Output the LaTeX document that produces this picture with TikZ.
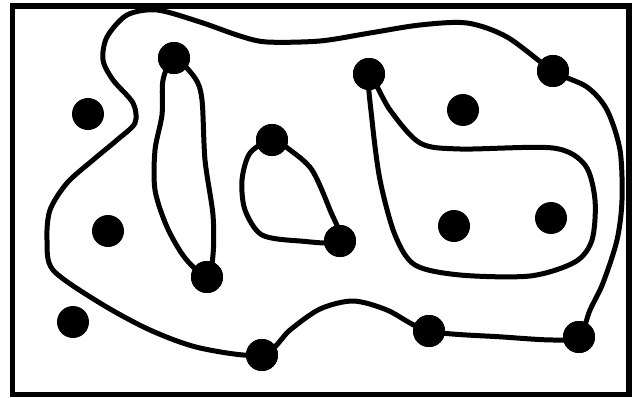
\documentclass[tikz,border=0pt]{standalone}
\begin{document}
\begin{tikzpicture}[x=1pt,y=-1pt,
  dot/.style={circle,fill=black,inner sep=0pt,minimum size=32pt},
  curve/.style={line width=5pt,line join=round}]
\useasboundingbox (0,0) rectangle (639,398);
\draw[line width=5.5pt] (12.5,6) rectangle (629,394.5);
% dots
\node[dot] (d1) at (174,58) {};
\node[dot] (d2) at (88,114) {};
\node[dot] (d3) at (108,231) {};
\node[dot] (d4) at (73,322) {};
\node[dot] (d5) at (207,277) {};
\node[dot] (d6) at (272,140) {};
\node[dot] (d7) at (340,241) {};
\node[dot] (d8) at (369,74) {};
\node[dot] (d9) at (463,110) {};
\node[dot] (d10) at (553,71) {};
\node[dot] (d11) at (454,226) {};
\node[dot] (d12) at (551,218) {};
\node[dot] (d13) at (429,331) {};
\node[dot] (d14) at (579,337) {};
\node[dot] (d15) at (262,355) {};
\draw[curve] plot[smooth cycle] coordinates {(d10.center) (507,37) (467,23) (420,25) (370,33) (320,41) (267,42) (240,36) (200,22) (157,10) (127,15) (107,37) (103,60) (113,80) (133,103) (135,123) (117,140) (93,160) (67,183) (50,210) (47,240) (53,270) (100,303) (150,330) (200,348) (d15.center) (290,330) (320,309) (353,301) (387,310) (d13.center) (503,337) (553,340) (d14.center) (590,310) (603,283) (617,240) (622,200) (620,150) (607,110) (587,87)};
\draw[curve] plot[smooth cycle] coordinates {(d1.center) (163,80) (162,115) (155,150) (155,190) (167,227) (185,258) (d5.center) (213,255) (213,215) (205,160) (202,100) (195,78)};
\draw[curve] plot[smooth cycle] coordinates {(d6.center) (250,153) (242,180) (245,210) (262,235) (300,241) (d7.center) (330,210) (312,170) (290,150)};
\draw[curve] plot[smooth cycle] coordinates {(d8.center) (390,110) (420,143) (460,149) (553,148) (585,165) (595,200) (592,240) (575,262) (530,276) (460,275) (415,265) (395,235) (380,180) (372,120)};
% dots on top of the curves
\foreach \n in {d1,d5,d6,d7,d8,d10,d13,d14,d15}{\fill (\n.center) circle (16pt);}
\end{tikzpicture}
\end{document}
